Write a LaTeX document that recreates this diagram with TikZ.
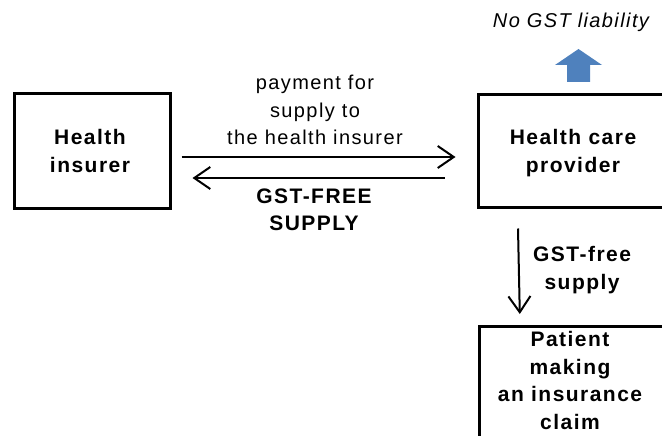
\documentclass[tikz,border=0pt]{standalone}
\usepackage{fontspec}
\setmainfont[LetterSpace=7]{Liberation Sans}
\usetikzlibrary{arrows.meta}
\definecolor{arrowblue}{RGB}{79,129,189}
\tikzset{
  box/.style={draw, line width=3pt, rectangle, inner sep=0pt},
  lbl/.style={align=center, inner sep=0pt, font=\fontsize{20}{27.5}\selectfont},
  blbl/.style={lbl, font=\fontsize{21}{27.5}\selectfont\bfseries},
  arr/.style={line width=2pt, -{Straight Barb[length=16pt,width=22pt,line width=2pt]}}
}
\begin{document}
\begin{tikzpicture}[x=1pt,y=-1pt]
\useasboundingbox (0,0) rectangle (662,436);
\clip (0,0) rectangle (662,436);
% boxes
\node[box, minimum width=156, minimum height=114] (hi) at (92,151) {};
\node[box, minimum width=190, minimum height=112] (hcp) at (573,151) {};
\node[box, minimum width=190, minimum height=140, anchor=north west] (pat) at (478.3,325) {};
% box texts
\node[blbl] (hit) at (90,151) {Health\\insurer};
\node[blbl] (hcpt) at (573,153) {Health care\\provider};
\node[blbl, anchor=north] (patt) at (570,331.5) {Patient\\making\\an insurance\\claim};
% arrows
\draw[arr] ([xshift=10pt,yshift=-6pt]hi.east) -- ([xshift=-21pt,yshift=-6pt]hcp.west);
\draw[arr] ([xshift=-32pt,yshift=-27pt]hcp.west) -- ([xshift=21pt,yshift=-27pt]hi.east);
\draw[arr] ([xshift=41.5pt,yshift=-20pt]hcp.south west) -- ([xshift=41.5pt,yshift=11pt]pat.north west);
% arrow labels
\node[lbl] (pay) at (315,110) {payment for\\supply to\\the health insurer};
\node[blbl] (gfs) at (314,210) {GST-FREE\\SUPPLY};
\node[blbl, anchor=west] (gfree) at (533,270) {GST-free\\supply};
% blue arrow and liability note
\fill[arrowblue] (567,82) -- (567,65) -- (555,65) -- (578.5,49) -- (602,65) -- (590,65) -- (590,82) -- cycle;
\node[lbl, font=\fontsize{20}{27.5}\selectfont\itshape] (nogst) at (571,22) {No GST liability};
\end{tikzpicture}
\end{document}
